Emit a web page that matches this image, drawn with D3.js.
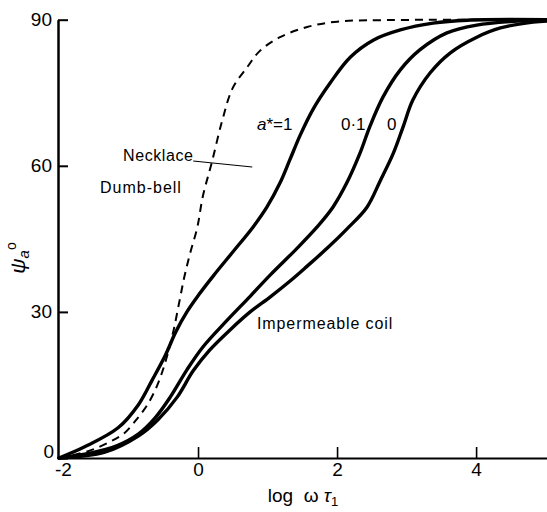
<!DOCTYPE html>
<html>
<head>
<meta charset="utf-8">
<script src="https://cdn.jsdelivr.net/npm/d3@7"></script>
<style>
  html, body { margin: 0; padding: 0; background: #fff; }
  svg { display: block; font-family: "Liberation Sans", Arial, sans-serif; }
</style>
</head>
<body>
<svg id="chart" width="547" height="512"></svg>
<script>
// ---- data (x = log ωτ1, y = ψa in degrees) ----
const xTicks = [-2, 0, 2, 4];
const xTickLabels = ["-2", "0", "2", "4"];
const yTicks = [0, 30, 60, 90];
const yTickLabels = ["0", "30", "60", "90"];

const necklaceX = [-2, -1.58, -1.27, -1.06, -0.88, -0.73, -0.59, -0.47, -0.36, -0.27, -0.20, -0.12, -0.01, 0.07, 0.20, 0.35, 0.50, 0.71, 0.89, 1.18, 1.57, 2.00, 2.62, 5.02];
const necklaceY = [0, 1.4, 3.3, 5.1, 8.0, 10.9, 14.8, 19.7, 25.7, 32.0, 37.0, 41.7, 47.4, 53.8, 60.8, 69.4, 76.0, 80.3, 83.6, 86.4, 88.5, 89.6, 89.9, 90];

const a1X = [-2, -1.63, -1.15, -0.86, -0.66, -0.47, -0.32, -0.16, 0.01, 0.22, 0.50, 0.79, 0.99, 1.18, 1.32, 1.47, 1.65, 1.90, 2.19, 2.52, 2.91, 3.38, 3.87, 5.02];
const a1Y = [0, 2.3, 6.2, 10.9, 16.0, 21.1, 25.9, 30.0, 33.5, 37.4, 42.3, 47.4, 51.5, 56.5, 61.2, 66.3, 71.5, 77.0, 82.3, 85.8, 87.9, 89.3, 89.9, 90];

const a01X = [-2, -1.55, -1.17, -0.86, -0.62, -0.40, -0.16, 0.07, 0.42, 0.75, 1.04, 1.42, 1.71, 1.94, 2.14, 2.33, 2.47, 2.66, 2.91, 3.19, 3.58, 4.01, 4.59, 5.02];
const a01Y = [0, 1.0, 2.5, 4.9, 8.2, 12.5, 18.1, 22.8, 28.3, 33.2, 37.6, 43.0, 47.4, 51.5, 56.5, 62.6, 68.0, 74.1, 79.7, 83.8, 87.3, 88.9, 89.7, 90];

const a0X = [-2, -1.34, -0.86, -0.58, -0.30, -0.07, 0.17, 0.46, 0.75, 1.04, 1.32, 1.57, 1.86, 2.14, 2.43, 2.62, 2.81, 2.95, 3.09, 3.34, 3.63, 4.01, 4.35, 4.82, 5.02];
const a0Y = [0, 1.2, 4.5, 7.8, 12.5, 17.9, 22.2, 26.3, 30.0, 33.1, 36.3, 39.4, 43.1, 47.0, 51.5, 56.9, 62.6, 68.0, 73.5, 79.1, 83.2, 86.4, 88.3, 89.5, 89.7];

const xDomain = [-2, 5.02];
const yDomain = [0, 90];

// ---- layout ----
const svg = d3.select("#chart");
const x = d3.scaleLinear().domain(xDomain).range([59, 547]);
const y = d3.scaleLinear().domain(yDomain).range([458, 19.7]);

const zip = (xs, ys) => xs.map((v, i) => [v, ys[i]]);
const line = d3.line().x(d => x(d[0])).y(d => y(d[1])).curve(d3.curveCatmullRom.alpha(0.5));

// curves
const solid = [zip(a1X, a1Y), zip(a01X, a01Y), zip(a0X, a0Y)];
svg.append("g").selectAll("path").data(solid).join("path")
  .attr("d", line).attr("fill", "none").attr("stroke", "#000")
  .attr("stroke-width", 3.4).attr("stroke-linecap", "round");

svg.append("path").datum(zip(necklaceX, necklaceY))
  .attr("d", line).attr("fill", "none").attr("stroke", "#000")
  .attr("stroke-width", 2).attr("stroke-dasharray", "8,6");

// axes
const yAxis = d3.axisLeft(y).tickValues(yTicks)
  .tickFormat((d, i) => yTickLabels[i]).tickSize(-10).tickSizeOuter(0).tickPadding(6);
const gy = svg.append("g").attr("transform", `translate(${x(xDomain[0]) - 1},0)`).call(yAxis);
gy.select(".domain").attr("stroke-width", 2.5);
gy.selectAll(".tick line").attr("stroke-width", 2);
gy.selectAll(".tick text").attr("font-size", 19).attr("font-family", "Liberation Sans, Arial, sans-serif").attr("fill", "#000");
gy.selectAll(".tick").filter(d => d === 0).select("text").attr("dy", "-0.05em").attr("x", -4);

const xAxis = d3.axisBottom(x).tickValues(xTicks)
  .tickFormat((d, i) => xTickLabels[i]).tickSize(-11).tickSizeOuter(0).tickPadding(5);
const gx = svg.append("g").attr("transform", `translate(0,${y(0)})`).call(xAxis);
gx.select(".domain").attr("stroke-width", 2);
gx.selectAll(".tick line").attr("stroke-width", 1.6);
gx.selectAll(".tick").filter(d => d === -2).select("line").remove();
gx.selectAll(".tick text").attr("font-size", 19).attr("font-family", "Liberation Sans, Arial, sans-serif").attr("fill", "#000");
gx.selectAll(".tick").filter(d => d === -2).select("text").attr("x", 4);

// axis titles
svg.append("text").attr("x", 303).attr("y", 502).attr("text-anchor", "middle")
  .attr("font-size", 19)
  .html('log&#160; ω <tspan font-style="italic">τ</tspan><tspan font-size="13" dy="4">1</tspan>');

svg.append("text").attr("transform", "translate(25,258) rotate(-90)")
  .attr("text-anchor", "middle").attr("font-size", 21)
  .html('<tspan font-style="italic">ψ</tspan><tspan font-size="15" dy="4" font-style="italic">a</tspan><tspan font-size="14" dy="-13">o</tspan>');

// annotations
svg.append("text").attr("x", 123).attr("y", 161).attr("font-size", 16).attr("letter-spacing", 0.6).text("Necklace");
svg.append("text").attr("x", 100).attr("y", 193).attr("font-size", 16).attr("letter-spacing", 1).text("Dumb-bell");
svg.append("line").attr("x1", x(-0.07)).attr("y1", 161).attr("x2", x(0.78)).attr("y2", 167)
  .attr("stroke", "#000").attr("stroke-width", 1.2);
svg.append("text").attr("x", 257).attr("y", 130).attr("font-size", 17)
  .html('<tspan font-style="italic">a</tspan>*=1');
svg.append("text").attr("x", 341).attr("y", 130).attr("font-size", 17).text("0·1");
svg.append("text").attr("x", 387).attr("y", 130).attr("font-size", 17).text("0");
svg.append("text").attr("x", 257).attr("y", 329).attr("font-size", 16).attr("letter-spacing", 0.9).text("Impermeable  coil");
</script>
</body>
</html>
